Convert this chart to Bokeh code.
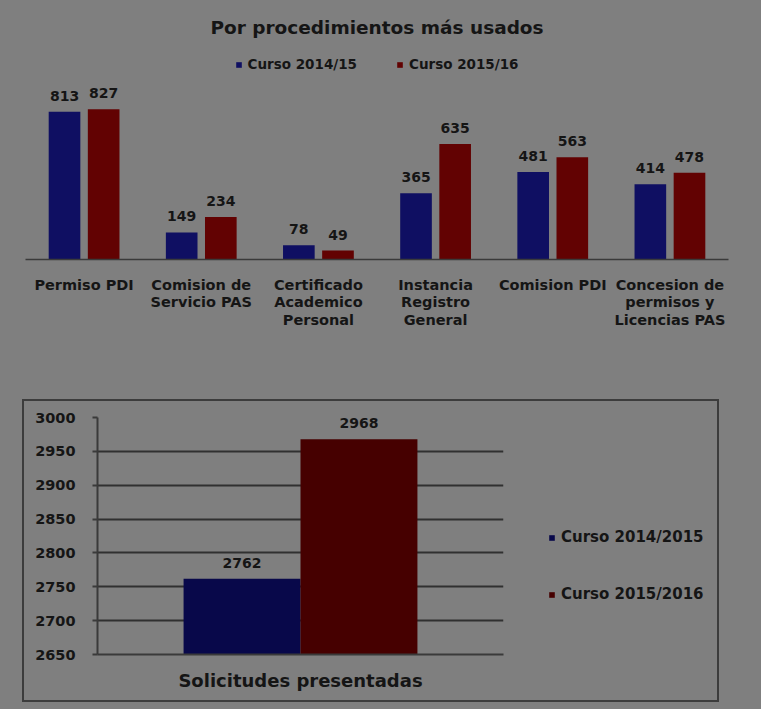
from bokeh.plotting import figure
from bokeh.models import (FactorRange, Range1d, Legend, LegendItem, FixedTicker,
                          ColumnDataSource)
from bokeh.transform import dodge
from bokeh.embed import file_html
from bokeh.resources import INLINE
from bokeh.core.properties import value

# ---- data ----
procedimientos = ["Permiso PDI", "Comision de\nServicio PAS", "Certificado\nAcademico\nPersonal",
                  "Instancia\nRegistro\nGeneral", "Comision PDI",
                  "Concesion de\npermisos y\nLicencias PAS"]
curso_2014_15 = [813, 149, 78, 365, 481, 414]
curso_2015_16 = [827, 234, 49, 635, 563, 478]
series_top = ["Curso 2014/15", "Curso 2015/16"]

total_cat = ["Solicitudes presentadas"]
total_2014_15 = [2762]
total_2015_16 = [2968]
series_bottom = ["Curso 2014/2015", "Curso 2015/2016"]
y_ticks = [2650, 2700, 2750, 2800, 2850, 2900, 2950, 3000]

# ---- style ----
BG = "#7f7f7f"
TXT = "#151515"
AX = "#3a3a3a"
BOX = "#3c3c3c"
BLUE1, RED1 = "#0f0f62", "#620202"
BLUE2, RED2 = "#08084a", "#460000"
FONT = "DejaVu Sans"

# ---- top chart ----
p1 = figure(frame_width=703, frame_height=209, x_range=FactorRange(factors=procedimientos),
            y_range=Range1d(0, 1150), output_backend="svg", toolbar_location=None,
            y_axis_location=None, min_border_left=25, min_border_right=33,
            min_border_top=50, min_border_bottom=131,
            background_fill_alpha=0, border_fill_alpha=0, outline_line_color=None,
            styles={"background-color": BG})
p1.title.text = "Por procedimientos más usados"
p1.title.align = "center"
p1.title.standoff = 26
p1.title.text_font = FONT
p1.title.text_font_size = "18.5px"
p1.title.text_font_style = "bold"
p1.title.text_color = TXT

src1 = ColumnDataSource(dict(cat=procedimientos, a=curso_2014_15, b=curso_2015_16,
                             la=[str(v) for v in curso_2014_15],
                             lb=[str(v) for v in curso_2015_16]))
ra = p1.vbar(x=dodge("cat", -0.167, range=p1.x_range), top="a", width=0.27, source=src1,
             fill_color=BLUE1, line_color=None)
rb = p1.vbar(x=dodge("cat", 0.167, range=p1.x_range), top="b", width=0.27, source=src1,
             fill_color=RED1, line_color=None)
for off, col in ((-0.167, "la"), (0.167, "lb")):
    p1.text(x=dodge("cat", off, range=p1.x_range), y=col[1], text=col, source=src1,
            text_align="center", text_baseline="middle", y_offset=-16,
            text_font=value(FONT), text_font_style="bold", text_font_size="14px",
            text_color=TXT)

leg1 = Legend(items=[LegendItem(label=series_top[0], renderers=[ra]),
                     LegendItem(label=series_top[1], renderers=[rb])],
              orientation="horizontal", location="top_center", glyph_width=7, glyph_height=7,
              label_standoff=6, spacing=39, padding=0, margin=6, label_height=16,
              label_text_font=FONT, label_text_font_size="13.5px", label_text_font_style="bold",
              label_text_color=TXT, background_fill_alpha=0, border_line_alpha=0)
p1.add_layout(leg1)

p1.xaxis.axis_line_color = AX
p1.xaxis.axis_line_width = 1.5
p1.xaxis.major_tick_line_color = None
p1.xaxis.major_tick_out = 0
p1.xaxis.major_tick_in = 0
p1.xaxis.major_label_standoff = 17
p1.xaxis.major_label_text_font = FONT
p1.xaxis.major_label_text_font_style = "bold"
p1.xaxis.major_label_text_font_size = "14.5px"
p1.xaxis.major_label_text_line_height = 1.12
p1.xaxis.major_label_text_color = TXT
p1.xgrid.visible = False
p1.ygrid.visible = False

# ---- bottom chart (framed box drawn as the host's CSS background) ----
box_css = {
    "background-color": BG,
    "background-image": ", ".join([f"linear-gradient({BOX}, {BOX})"] * 4),
    "background-position": "22px 9px, 22px 310px, 22px 9px, 717px 9px",
    "background-size": "697px 2px, 697px 2px, 2px 303px, 2px 303px",
    "background-repeat": "no-repeat",
}
p2 = figure(frame_width=406, frame_height=237, x_range=FactorRange(factors=total_cat),
            y_range=Range1d(2650, 3000), output_backend="svg", toolbar_location=None,
            min_border_left=97, min_border_right=258, min_border_top=27, min_border_bottom=55,
            background_fill_alpha=0, border_fill_alpha=0, outline_line_color=None,
            styles=box_css)
src2 = ColumnDataSource(dict(cat=total_cat, a=total_2014_15, b=total_2015_16,
                             la=[str(v) for v in total_2014_15],
                             lb=[str(v) for v in total_2015_16]))
r2a = p2.vbar(x=dodge("cat", -0.144, range=p2.x_range), top="a", width=0.288, source=src2,
              fill_color=BLUE2, line_color=None)
r2b = p2.vbar(x=dodge("cat", 0.144, range=p2.x_range), top="b", width=0.288, source=src2,
              fill_color=RED2, line_color=None)
for off, col in ((-0.144, "la"), (0.144, "lb")):
    p2.text(x=dodge("cat", off, range=p2.x_range), y=col[1], text=col, source=src2,
            text_align="center", text_baseline="middle", y_offset=-16,
            text_font=value(FONT), text_font_style="bold", text_font_size="14px",
            text_color=TXT)

p2.yaxis.ticker = FixedTicker(ticks=y_ticks)
p2.yaxis.axis_line_color = AX
p2.yaxis.axis_line_width = 2
p2.yaxis.major_tick_line_color = AX
p2.yaxis.major_tick_line_width = 2
p2.yaxis.major_tick_out = 5
p2.yaxis.major_tick_in = 0
p2.yaxis.minor_tick_line_color = None
p2.yaxis.major_label_standoff = 17
p2.yaxis.major_label_text_font = FONT
p2.yaxis.major_label_text_font_style = "bold"
p2.yaxis.major_label_text_font_size = "14.5px"
p2.yaxis.major_label_text_color = TXT

p2.xaxis.axis_line_color = AX
p2.xaxis.axis_line_width = 2
p2.xaxis.major_tick_line_color = None
p2.xaxis.major_tick_out = 0
p2.xaxis.major_label_standoff = 15
p2.xaxis.major_label_text_font = FONT
p2.xaxis.major_label_text_font_style = "bold"
p2.xaxis.major_label_text_font_size = "18px"
p2.xaxis.major_label_text_color = TXT

p2.xgrid.visible = False
p2.ygrid.grid_line_color = "#303030"
p2.ygrid.grid_line_width = 2

leg2 = Legend(items=[LegendItem(label=series_bottom[0], renderers=[r2a]),
                     LegendItem(label=series_bottom[1], renderers=[r2b])],
              orientation="vertical", location=(45, 50), glyph_width=7, glyph_height=7,
              label_standoff=6, spacing=37, padding=0, margin=0, label_height=20,
              label_text_font=FONT, label_text_font_size="15px", label_text_font_style="bold",
              label_text_color=TXT, background_fill_alpha=0, border_line_alpha=0)
p2.add_layout(leg2, "right")

open("out.html", "w").write(file_html([p1, p2], INLINE))
